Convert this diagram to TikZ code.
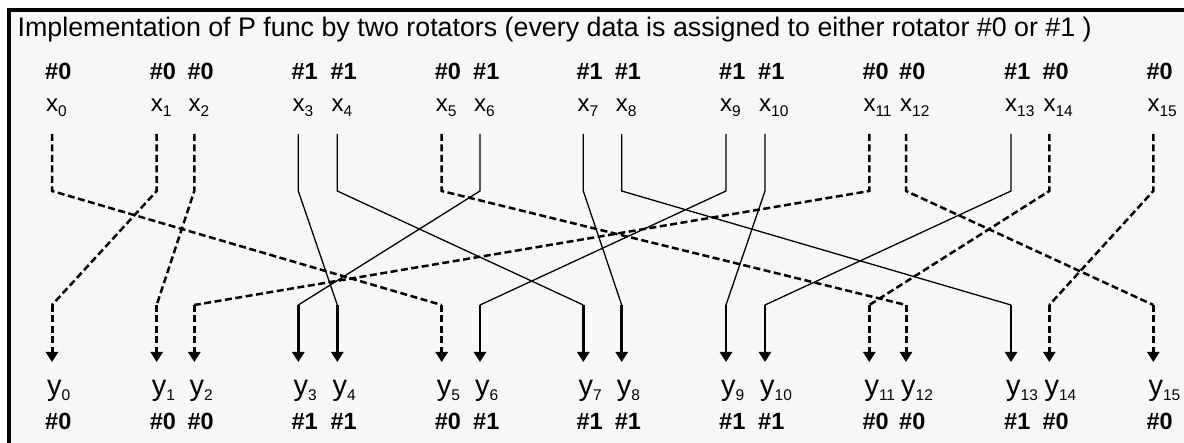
\documentclass[tikz,border=0pt]{standalone}
\usepackage{fontspec}
\setmainfont{Liberation Sans}
\usetikzlibrary{arrows.meta}
\definecolor{boxgray}{RGB}{247,247,247}
\begin{document}
\begin{tikzpicture}[x=1pt,y=-1pt,
  solidline/.style={line width=1.3pt},
  dashline/.style={line width=2.5pt, dash pattern=on 7pt off 3.5pt},
  tipped/.style={-{Triangle[width=12pt,length=10pt]}},
  hashlbl/.style={font=\fontsize{23.5}{23.5}\selectfont\bfseries, anchor=base west, inner sep=0pt},
  xlbl/.style={font=\fontsize{24}{24}\selectfont, anchor=base west, inner sep=0pt},
  ylbl/.style={font=\fontsize{29}{29}\selectfont, anchor=base west, inner sep=0pt},
  titlelbl/.style={font=\fontsize{26.8}{26.8}\selectfont, anchor=base west, inner sep=0pt},
]
\useasboundingbox (0,0) rectangle (1184,443);
\begin{scope}
  \clip (0,0) rectangle (1184,443);
  \draw[line width=4pt, fill=boxgray] (9,10) rectangle (1200,470);
\end{scope}
\node[titlelbl] (title) at (17.5,37) {Implementation of P func by two rotators (every data is assigned to either rotator \#0 or \#1 )};
\foreach \i/\X/\r in {0/52/0,1/156.7/0,2/194.3/0,3/298.3/1,4/337.3/1,5/441.7/0,6/480/1,7/583.3/1,8/621.7/1,9/726/1,10/765/1,11/869.3/0,12/906/0,13/1011/1,14/1049.3/0,15/1153.3/0}{
  \node[hashlbl] (hx\i) at (\X-7,80) {\#\r};
  \node[xlbl] (x\i) at (\X-6,112) {x\raisebox{-4.7pt}{\fontsize{15.5}{15.5}\selectfont\i}};
  \node[ylbl] (y\i) at (\X-5,395.3) {y\raisebox{-5.4pt}{\fontsize{15.5}{15.5}\selectfont\i}};
  \node[hashlbl] (hy\i) at (\X-7,430) {\#\r};
  \coordinate (t\i) at (\X,134);
  \coordinate (tu\i) at (\X,191);
  \coordinate (bu\i) at (\X,305);
  \coordinate (b\i) at (\X,362);
}
\foreach \s/\d/\st/\bw in {0/5/dashline/3pt,1/0/dashline/3pt,2/1/dashline/3pt,3/4/solidline/2.5pt,4/7/solidline/2.5pt,5/12/dashline/3pt,6/3/solidline/2.5pt,7/8/solidline/2.5pt,8/13/solidline/2.5pt,9/6/solidline/2.5pt,10/9/solidline/2.5pt,11/2/dashline/3pt,12/15/dashline/3pt,13/10/solidline/2.5pt,14/11/dashline/3pt,15/14/dashline/3pt}{
  \draw[\st] (t\s) -- (tu\s) -- (bu\d);
  \draw[\st, line width=\bw, tipped] (bu\d) -- (b\d);
}
\end{tikzpicture}
\end{document}
